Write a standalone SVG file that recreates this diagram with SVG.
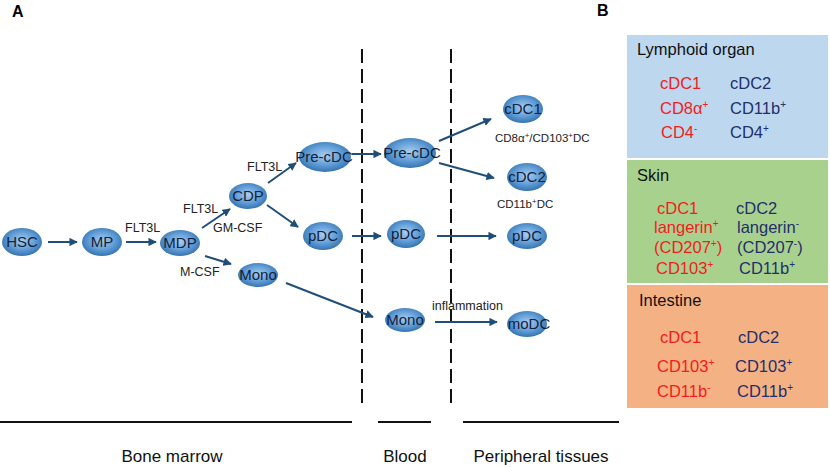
<svg xmlns="http://www.w3.org/2000/svg" width="830" height="467" viewBox="0 0 830 467">
<defs>
<radialGradient id="g" cx="0.5" cy="0.45" r="0.6">
<stop offset="0" stop-color="#a9cdee"/>
<stop offset="0.55" stop-color="#5f9cd6"/>
<stop offset="1" stop-color="#2c6aa8"/>
</radialGradient>
<marker id="ah" viewBox="0 0 10 10" refX="9" refY="5" markerWidth="4.2" markerHeight="4.2" orient="auto" markerUnits="strokeWidth">
<path d="M0,0 L10,5 L0,10 z" fill="#1f4e79"/>
</marker>
<style>
text{font-family:"Liberation Sans",Arial,sans-serif}
.n ellipse{fill:url(#g)}
.n text{font-size:15px;fill:#13213a;text-anchor:middle}
.c line{stroke:#1f4e79;stroke-width:2;marker-end:url(#ah)}
.lab{font-size:12.5px;fill:#222}
.sm{font-size:11.5px;fill:#222}
.dash{stroke:#111;stroke-width:2;stroke-dasharray:14 6}
.base{stroke:#111;stroke-width:2}
.reg{font-size:17px;fill:#111;text-anchor:middle}
.pb{font-size:16.5px}
.red{fill:#f21c1c}
.blu{fill:#1f2f6b}
.hd{fill:#111}
</style>
</defs>
<rect width="830" height="467" fill="#fff"/>
<text x="12" y="17" font-size="16" font-weight="bold">A</text>
<text x="597" y="16" font-size="16" font-weight="bold">B</text>

<line class="dash" x1="362" y1="49" x2="362" y2="404"/>
<line class="dash" x1="451" y1="49" x2="451" y2="404"/>

<g id="connectors" class="c">
<line x1="48" y1="242" x2="77" y2="242"/>
<line x1="126" y1="242" x2="156" y2="242"/>
<line x1="202" y1="228" x2="230" y2="209"/>
<line x1="268" y1="183" x2="296" y2="163"/>
<line x1="267" y1="205" x2="298" y2="227"/>
<line x1="205" y1="256" x2="231" y2="264"/>
<line x1="286" y1="283" x2="373" y2="317"/>
<line x1="352" y1="154" x2="381" y2="154"/>
<line x1="352" y1="236" x2="381" y2="236"/>
<line x1="439" y1="141" x2="491" y2="119"/>
<line x1="439" y1="163" x2="494" y2="178"/>
<line x1="437" y1="236" x2="496" y2="236"/>
<line x1="435" y1="322" x2="497" y2="322"/>
</g>

<g id="HSC" class="n"><ellipse cx="22" cy="242" rx="20" ry="14"/><text x="22" y="247">HSC</text></g>
<g id="MP" class="n"><ellipse cx="102" cy="242" rx="20" ry="14"/><text x="102" y="247">MP</text></g>
<g id="MDP" class="n"><ellipse cx="180" cy="243" rx="20" ry="13"/><text x="180" y="248">MDP</text></g>
<g id="CDP" class="n"><ellipse cx="248" cy="196" rx="19" ry="13"/><text x="248" y="201">CDP</text></g>
<g id="MonoBM" class="n"><ellipse cx="258" cy="275" rx="20" ry="12"/><text x="258" y="280">Mono</text></g>
<g id="PreCDC-BM" class="n"><ellipse cx="325" cy="157" rx="26" ry="15"/><text x="324" y="162">Pre-cDC</text></g>
<g id="pDC-BM" class="n"><ellipse cx="323" cy="236" rx="20" ry="14"/><text x="323" y="241">pDC</text></g>
<g id="PreCDC-Blood" class="n"><ellipse cx="410" cy="153" rx="26" ry="15"/><text x="412" y="158">Pre-cDC</text></g>
<g id="pDC-Blood" class="n"><ellipse cx="406" cy="234" rx="19" ry="14"/><text x="406" y="239">pDC</text></g>
<g id="Mono-Blood" class="n"><ellipse cx="405" cy="320" rx="20" ry="12"/><text x="405" y="325">Mono</text></g>
<g id="cDC1" class="n"><ellipse cx="523" cy="109" rx="20" ry="14"/><text x="523" y="114">cDC1</text></g>
<g id="cDC2" class="n"><ellipse cx="527" cy="177" rx="20" ry="14"/><text x="527" y="182">cDC2</text></g>
<g id="pDC-T" class="n"><ellipse cx="527" cy="236" rx="20" ry="13"/><text x="527" y="241">pDC</text></g>
<g id="moDC" class="n"><ellipse cx="527" cy="324" rx="20" ry="13"/><text x="529" y="329">moDC</text></g>

<g id="labels">
<text class="lab" x="125" y="232">FLT3L</text>
<text class="lab" x="183" y="213">FLT3L</text>
<text class="lab" x="213" y="232">GM-CSF</text>
<text class="lab" x="180" y="276">M-CSF</text>
<text class="lab" x="247" y="171">FLT3L</text>
<text class="lab" x="432" y="310">inflammation</text>
<text class="sm" x="495" y="142">CD8α<tspan dy="-4" font-size="8">+</tspan><tspan dy="4">/CD103</tspan><tspan dy="-4" font-size="8">+</tspan><tspan dy="4">DC</tspan></text>
<text class="sm" x="497" y="208">CD11b<tspan dy="-4" font-size="8">+</tspan><tspan dy="4">DC</tspan></text>
</g>

<g id="regions">
<line class="base" x1="0" y1="422" x2="352" y2="422"/>
<line class="base" x1="378" y1="422" x2="431" y2="422"/>
<line class="base" x1="463" y1="422" x2="619" y2="422"/>
<text class="reg" x="172" y="462">Bone marrow</text>
<text class="reg" x="405" y="462">Blood</text>
<text class="reg" x="541" y="462">Peripheral tissues</text>
</g>

<g id="lymphoid">
<rect x="627" y="35" width="201" height="123" fill="#bdd7ee"/>
<text class="pb hd" x="637" y="55">Lymphoid organ</text>
<text class="pb red" x="660" y="89">cDC1</text>
<text class="pb blu" x="730" y="89">cDC2</text>
<text class="pb red" x="660" y="114">CD8α<tspan dy="-6" font-size="10">+</tspan></text>
<text class="pb blu" x="730" y="114">CD11b<tspan dy="-6" font-size="10">+</tspan></text>
<text class="pb red" x="661" y="138">CD4<tspan dy="-6" font-size="10">-</tspan></text>
<text class="pb blu" x="730" y="138">CD4<tspan dy="-6" font-size="10">+</tspan></text>
</g>

<g id="skin">
<rect x="627" y="160" width="201" height="123" fill="#a9d18e"/>
<text class="pb hd" x="637" y="181">Skin</text>
<text class="pb red" x="657" y="214">cDC1</text>
<text class="pb blu" x="736" y="214">cDC2</text>
<text class="pb red" x="654" y="233">langerin<tspan dy="-6" font-size="10">+</tspan></text>
<text class="pb blu" x="737" y="233">langerin<tspan dy="-6" font-size="10">-</tspan></text>
<text class="pb red" x="654" y="253">(CD207<tspan dy="-6" font-size="10">+</tspan><tspan dy="6">)</tspan></text>
<text class="pb blu" x="737" y="253">(CD207<tspan dy="-6" font-size="10">-</tspan><tspan dy="6">)</tspan></text>
<text class="pb red" x="656" y="274">CD103<tspan dy="-6" font-size="10">+</tspan></text>
<text class="pb blu" x="739" y="274">CD11b<tspan dy="-6" font-size="10">+</tspan></text>
</g>

<g id="intestine">
<rect x="627" y="285" width="201" height="123" fill="#f4b183"/>
<text class="pb hd" x="639" y="306">Intestine</text>
<text class="pb red" x="660" y="343">cDC1</text>
<text class="pb blu" x="738" y="343">cDC2</text>
<text class="pb red" x="657" y="372">CD103<tspan dy="-6" font-size="10">+</tspan></text>
<text class="pb blu" x="735" y="372">CD103<tspan dy="-6" font-size="10">+</tspan></text>
<text class="pb red" x="657" y="397">CD11b<tspan dy="-6" font-size="10">-</tspan></text>
<text class="pb blu" x="737" y="397">CD11b<tspan dy="-6" font-size="10">+</tspan></text>
</g>
</svg>
